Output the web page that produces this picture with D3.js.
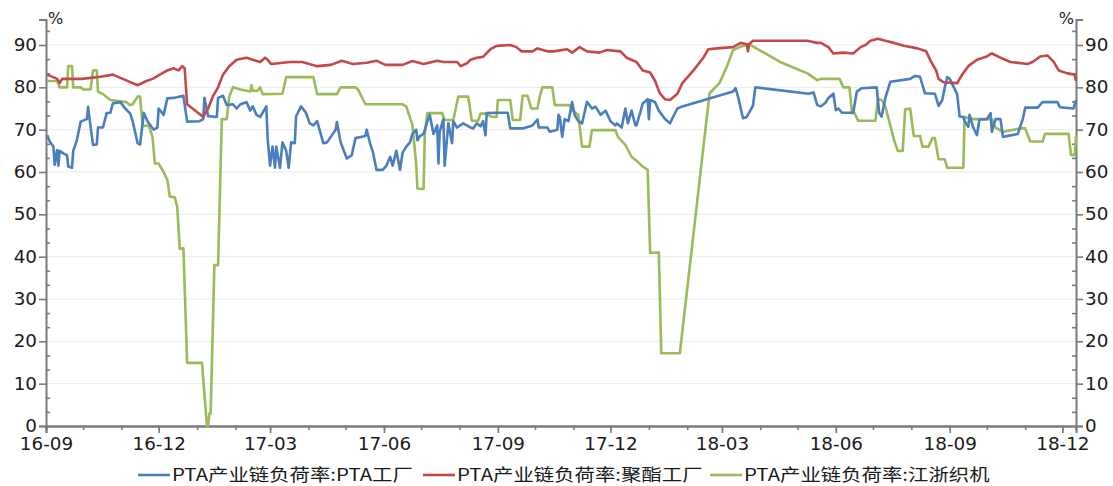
<!DOCTYPE html>
<html>
<head>
<meta charset="utf-8">
<script src="https://cdn.jsdelivr.net/npm/d3@7"></script>
<style>
  body { margin: 0; background: #fff; }
  svg { display: block; }
</style>
</head>
<body>
<div id="chart"></div>
<script>
// series names and colours
const seriesNames = ["PTA产业链负荷率:PTA工厂", "PTA产业链负荷率:聚酯工厂", "PTA产业链负荷率:江浙织机"];
const seriesColors = ["#4a7ebf", "#c4494b", "#9bbb59"];

// axis ticks
const xTickLabels = ["16-09", "16-12", "17-03", "17-06", "17-09", "17-12", "18-03", "18-06", "18-09", "18-12"];
const yTicks = [0, 10, 20, 30, 40, 50, 60, 70, 80, 90];
const xDomain = ["2016-09-01", "2018-12-12"];
const yMax = 96;

// PTA工厂
const ptaPlant = [
  ["2016-09-02", 68.7], ["2016-09-04", 67.2], ["2016-09-07", 66], ["2016-09-08", 61.7], ["2016-09-10", 65.2],
  ["2016-09-11", 61.5], ["2016-09-12", 65], ["2016-09-15", 64.4], ["2016-09-18", 64], ["2016-09-19", 61.3],
  ["2016-09-22", 61], ["2016-09-23", 65], ["2016-09-26", 67.6], ["2016-09-29", 71.9], ["2016-10-04", 72.5],
  ["2016-10-05", 75.4], ["2016-10-07", 70.7], ["2016-10-09", 66.4], ["2016-10-12", 66.5], ["2016-10-13", 70.5],
  ["2016-10-17", 70.5], ["2016-10-20", 73.9], ["2016-10-23", 74], ["2016-10-25", 76.2], ["2016-10-31", 76.5],
  ["2016-11-04", 75], ["2016-11-08", 73.8], ["2016-11-10", 72], ["2016-11-14", 66.8], ["2016-11-16", 66.5],
  ["2016-11-19", 74], ["2016-11-22", 72], ["2016-11-27", 70], ["2016-11-30", 70.5], ["2016-12-01", 75],
  ["2016-12-05", 73.5], ["2016-12-08", 77.4], ["2016-12-13", 77.5], ["2016-12-21", 78], ["2016-12-24", 71.9],
  ["2017-01-03", 72], ["2017-01-06", 72.5], ["2017-01-07", 77.5], ["2017-01-10", 73.2], ["2017-01-17", 73],
  ["2017-01-18", 77.5], ["2017-01-22", 78], ["2017-01-25", 75.8], ["2017-01-30", 76], ["2017-02-02", 75],
  ["2017-02-05", 76], ["2017-02-10", 76.5], ["2017-02-13", 74.5], ["2017-02-15", 75.5], ["2017-02-18", 73.5],
  ["2017-02-21", 73], ["2017-02-23", 74], ["2017-02-26", 75.5], ["2017-02-27", 68], ["2017-03-01", 61.5],
  ["2017-03-03", 66], ["2017-03-05", 61], ["2017-03-06", 66], ["2017-03-09", 61], ["2017-03-11", 67],
  ["2017-03-14", 65], ["2017-03-16", 61], ["2017-03-18", 67], ["2017-03-21", 66.8], ["2017-03-22", 73.1],
  ["2017-03-26", 75.5], ["2017-03-30", 74], ["2017-04-02", 71.5], ["2017-04-05", 71], ["2017-04-08", 72],
  ["2017-04-13", 66.8], ["2017-04-16", 67], ["2017-04-19", 68.3], ["2017-04-23", 70], ["2017-04-24", 71.8],
  ["2017-04-27", 67], ["2017-05-02", 63.2], ["2017-05-06", 64], ["2017-05-09", 68], ["2017-05-17", 68.5],
  ["2017-05-18", 70], ["2017-05-21", 66.5], ["2017-05-23", 64.8], ["2017-05-26", 60.5], ["2017-05-31", 60.5],
  ["2017-06-03", 61.5], ["2017-06-06", 63.6], ["2017-06-08", 61.5], ["2017-06-11", 65], ["2017-06-14", 60.5],
  ["2017-06-16", 64.5], ["2017-06-19", 66], ["2017-06-22", 67], ["2017-06-24", 69], ["2017-06-27", 70],
  ["2017-06-28", 67.5], ["2017-06-30", 68.5], ["2017-07-03", 69], ["2017-07-06", 71.9], ["2017-07-08", 73.5],
  ["2017-07-11", 69], ["2017-07-14", 71], ["2017-07-15", 62], ["2017-07-16", 69.5], ["2017-07-19", 72.5],
  ["2017-07-20", 61.5], ["2017-07-23", 71.5], ["2017-07-26", 66.8], ["2017-07-27", 72], ["2017-07-30", 70.5],
  ["2017-08-04", 71.5], ["2017-08-10", 70.5], ["2017-08-12", 70.3], ["2017-08-15", 71.5], ["2017-08-18", 70.8],
  ["2017-08-20", 72], ["2017-08-22", 68.7], ["2017-08-23", 73.9], ["2017-08-31", 74], ["2017-09-09", 74],
  ["2017-09-11", 70.3], ["2017-09-21", 70.3], ["2017-09-29", 71], ["2017-10-03", 72.4], ["2017-10-04", 70.5],
  ["2017-10-11", 70.5], ["2017-10-13", 69.5], ["2017-10-19", 70], ["2017-10-20", 73.5], ["2017-10-21", 73],
  ["2017-10-23", 68.3], ["2017-10-25", 72.5], ["2017-10-28", 72], ["2017-10-31", 76.5], ["2017-11-02", 73.5],
  ["2017-11-05", 72], ["2017-11-08", 71.5], ["2017-11-12", 76.6], ["2017-11-16", 75], ["2017-11-19", 75.4],
  ["2017-11-23", 73.5], ["2017-11-27", 74.5], ["2017-12-01", 72], ["2017-12-05", 71], ["2017-12-06", 71.5],
  ["2017-12-10", 70.5], ["2017-12-13", 75], ["2017-12-15", 71.5], ["2017-12-18", 74.5], ["2017-12-21", 71.1],
  ["2017-12-22", 71], ["2017-12-25", 74], ["2017-12-27", 76.2], ["2017-12-31", 77.2], ["2018-01-01", 72.5],
  ["2018-01-02", 77], ["2018-01-06", 76.5], ["2018-01-09", 74.5], ["2018-01-14", 72.5], ["2018-01-18", 71.5],
  ["2018-01-24", 75], ["2018-01-28", 75.5], ["2018-03-10", 79], ["2018-03-12", 79.8], ["2018-03-14", 77.8],
  ["2018-03-18", 72.7], ["2018-03-21", 73], ["2018-03-26", 75.6], ["2018-03-28", 80], ["2018-05-10", 78.5],
  ["2018-05-14", 78.8], ["2018-05-17", 75.8], ["2018-05-20", 75.5], ["2018-05-24", 76.5], ["2018-05-26", 77.5],
  ["2018-05-30", 78.5], ["2018-06-01", 74.6], ["2018-06-03", 75], ["2018-06-06", 74], ["2018-06-15", 74],
  ["2018-06-18", 79], ["2018-06-22", 79.8], ["2018-07-04", 80], ["2018-07-06", 74], ["2018-07-08", 73.1],
  ["2018-07-11", 77.5], ["2018-07-15", 81.3], ["2018-07-31", 82], ["2018-08-04", 82.7], ["2018-08-08", 82.5],
  ["2018-08-12", 78.6], ["2018-08-20", 78.5], ["2018-08-23", 75.6], ["2018-08-26", 77], ["2018-08-28", 80],
  ["2018-08-30", 82.4], ["2018-09-01", 82], ["2018-09-07", 78.4], ["2018-09-09", 73.1], ["2018-09-12", 73],
  ["2018-09-13", 72], ["2018-09-16", 70.7], ["2018-09-17", 73.5], ["2018-09-20", 70.5], ["2018-09-23", 68.7],
  ["2018-09-25", 72.4], ["2018-10-01", 72.5], ["2018-10-04", 73.9], ["2018-10-05", 69.5], ["2018-10-08", 72.5],
  ["2018-10-12", 72.5], ["2018-10-14", 68.3], ["2018-10-26", 69], ["2018-10-30", 72.5], ["2018-11-01", 75.2],
  ["2018-11-11", 75.2], ["2018-11-15", 76.5], ["2018-11-27", 76.5], ["2018-11-29", 75.3], ["2018-12-10", 75],
  ["2018-12-12", 77]
];

// 聚酯工厂
const polyesterPlant = [
  ["2016-09-02", 83], ["2016-09-10", 82], ["2016-09-12", 81], ["2016-09-14", 82], ["2016-09-30", 82],
  ["2016-10-15", 82.5], ["2016-10-25", 83], ["2016-11-02", 82], ["2016-11-10", 81], ["2016-11-14", 80.5],
  ["2016-11-21", 81.5], ["2016-11-26", 82], ["2016-12-02", 83], ["2016-12-08", 84], ["2016-12-13", 84.5],
  ["2016-12-17", 84], ["2016-12-20", 85], ["2016-12-22", 84.5], ["2016-12-24", 76], ["2017-01-06", 73],
  ["2017-01-10", 75], ["2017-01-14", 78], ["2017-01-18", 80], ["2017-01-22", 83], ["2017-01-27", 85],
  ["2017-02-02", 86.5], ["2017-02-10", 87], ["2017-02-15", 86.5], ["2017-02-21", 86], ["2017-02-25", 87],
  ["2017-02-27", 86.5], ["2017-03-02", 85.5], ["2017-03-17", 86], ["2017-03-27", 86], ["2017-04-08", 85],
  ["2017-04-19", 85.3], ["2017-04-28", 86.3], ["2017-05-07", 85.5], ["2017-05-18", 85.8], ["2017-05-26", 86.3],
  ["2017-06-02", 85.3], ["2017-06-16", 85.3], ["2017-06-24", 86.2], ["2017-07-03", 85.5], ["2017-07-14", 86.3],
  ["2017-07-19", 86], ["2017-07-30", 86], ["2017-08-02", 85], ["2017-08-07", 85.7], ["2017-08-10", 86.5],
  ["2017-08-15", 87], ["2017-08-20", 87.2], ["2017-08-26", 89], ["2017-08-31", 89.8], ["2017-09-11", 90],
  ["2017-09-16", 89.5], ["2017-09-20", 88.5], ["2017-09-29", 88.5], ["2017-10-03", 89.2], ["2017-10-11", 88.5],
  ["2017-10-16", 88.5], ["2017-10-27", 89], ["2017-10-31", 88.2], ["2017-11-06", 89.5], ["2017-11-12", 88.5],
  ["2017-11-22", 88.2], ["2017-11-28", 88.8], ["2017-12-09", 88.5], ["2017-12-14", 87], ["2017-12-22", 86],
  ["2017-12-27", 84], ["2018-01-02", 83.5], ["2018-01-06", 81.5], ["2018-01-10", 78.5], ["2018-01-14", 77.2],
  ["2018-01-18", 77], ["2018-01-24", 78.5], ["2018-01-28", 81], ["2018-02-06", 84], ["2018-02-14", 87],
  ["2018-02-18", 89], ["2018-02-25", 89.2], ["2018-03-10", 89.5], ["2018-03-16", 90.5], ["2018-03-21", 90.2],
  ["2018-03-22", 88.5], ["2018-03-23", 90.2], ["2018-03-26", 91], ["2018-04-11", 91], ["2018-05-09", 91],
  ["2018-05-17", 90.5], ["2018-05-20", 90.5], ["2018-05-26", 89.5], ["2018-05-30", 88], ["2018-06-07", 88.2],
  ["2018-06-15", 88], ["2018-06-21", 89.5], ["2018-06-25", 90], ["2018-06-29", 91], ["2018-07-05", 91.5],
  ["2018-07-11", 91], ["2018-07-18", 90.5], ["2018-07-26", 89.8], ["2018-08-06", 89.2], ["2018-08-13", 88.5],
  ["2018-08-17", 86], ["2018-08-21", 84], ["2018-08-23", 82], ["2018-08-27", 81.2], ["2018-09-07", 81],
  ["2018-09-11", 83], ["2018-09-16", 85], ["2018-09-23", 86.5], ["2018-10-01", 87.3], ["2018-10-05", 88],
  ["2018-10-12", 87], ["2018-10-20", 86], ["2018-11-03", 85.5], ["2018-11-07", 86], ["2018-11-13", 87.3],
  ["2018-11-19", 87.5], ["2018-11-24", 86], ["2018-11-28", 84], ["2018-12-05", 83.3], ["2018-12-11", 83],
  ["2018-12-12", 81.5]
];

// 江浙织机
const weavingLooms = [
  ["2016-09-02", 81.5], ["2016-09-10", 81.5], ["2016-09-12", 80], ["2016-09-18", 80], ["2016-09-19", 85],
  ["2016-09-22", 85], ["2016-09-23", 80], ["2016-09-29", 80], ["2016-10-01", 79.5], ["2016-10-07", 79.5],
  ["2016-10-09", 84], ["2016-10-12", 84], ["2016-10-13", 79], ["2016-10-17", 78.4], ["2016-10-23", 77],
  ["2016-11-05", 76.5], ["2016-11-08", 75.8], ["2016-11-10", 76], ["2016-11-14", 77.8], ["2016-11-16", 77.8],
  ["2016-11-18", 70.9], ["2016-11-23", 71], ["2016-11-26", 68.3], ["2016-11-28", 62], ["2016-12-01", 62],
  ["2016-12-05", 60], ["2016-12-08", 58.1], ["2016-12-10", 54.2], ["2016-12-14", 54], ["2016-12-16", 51.8],
  ["2016-12-18", 41.9], ["2016-12-21", 42], ["2016-12-24", 14.9], ["2017-01-05", 14.9], ["2017-01-09", 0],
  ["2017-01-10", 0], ["2017-01-11", 3], ["2017-01-12", 3], ["2017-01-15", 38], ["2017-01-18", 38],
  ["2017-01-21", 72.5], ["2017-01-25", 72.5], ["2017-01-27", 77.8], ["2017-01-30", 80], ["2017-02-05", 79.5],
  ["2017-02-10", 79.2], ["2017-02-13", 79], ["2017-02-14", 80.5], ["2017-02-15", 79.2], ["2017-02-19", 79.2],
  ["2017-02-21", 80], ["2017-02-23", 78.4], ["2017-03-11", 78.5], ["2017-03-14", 82.4], ["2017-04-05", 82.4],
  ["2017-04-08", 78.4], ["2017-04-24", 78.4], ["2017-04-27", 80], ["2017-05-09", 80], ["2017-05-11", 79.5],
  ["2017-05-17", 76], ["2017-06-16", 76], ["2017-06-19", 75.5], ["2017-06-24", 71.1], ["2017-06-27", 62],
  ["2017-06-28", 56.1], ["2017-07-03", 56], ["2017-07-04", 69.1], ["2017-07-06", 73.9], ["2017-07-18", 73.9],
  ["2017-07-20", 72.3], ["2017-07-27", 72.3], ["2017-07-31", 77.8], ["2017-08-08", 77.8], ["2017-08-11", 72.1],
  ["2017-08-16", 72.1], ["2017-08-18", 73.8], ["2017-08-23", 73.8], ["2017-08-26", 73.1], ["2017-08-31", 73],
  ["2017-09-01", 77], ["2017-09-11", 77], ["2017-09-13", 72.3], ["2017-09-19", 72.3], ["2017-09-21", 78],
  ["2017-09-25", 78], ["2017-09-28", 75], ["2017-10-03", 75], ["2017-10-05", 78], ["2017-10-07", 80],
  ["2017-10-15", 80], ["2017-10-17", 75.8], ["2017-10-29", 75.8], ["2017-10-31", 74.5], ["2017-11-05", 73.5],
  ["2017-11-08", 66], ["2017-11-14", 66], ["2017-11-16", 69.9], ["2017-12-05", 69.9], ["2017-12-07", 68.3],
  ["2017-12-13", 66.4], ["2017-12-18", 63.6], ["2017-12-23", 62.4], ["2017-12-27", 61.3], ["2017-12-31", 60.5],
  ["2018-01-02", 40.9], ["2018-01-09", 41], ["2018-01-11", 17.2], ["2018-01-26", 17.2], ["2018-02-09", 53],
  ["2018-02-19", 78.6], ["2018-02-27", 81], ["2018-03-05", 84.9], ["2018-03-10", 88.8], ["2018-03-16", 89.6],
  ["2018-03-23", 90.2], ["2018-03-27", 89.5], ["2018-04-17", 86], ["2018-05-09", 83.3], ["2018-05-17", 81.7],
  ["2018-05-20", 82], ["2018-06-04", 82], ["2018-06-07", 80], ["2018-06-12", 80], ["2018-06-14", 73.9],
  ["2018-06-16", 74], ["2018-06-19", 72.1], ["2018-07-03", 72.1], ["2018-07-05", 77.2], ["2018-07-08", 77],
  ["2018-07-11", 75.5], ["2018-07-18", 67.6], ["2018-07-21", 65], ["2018-07-25", 65], ["2018-07-27", 74.8],
  ["2018-07-31", 75], ["2018-08-03", 68.5], ["2018-08-08", 68.5], ["2018-08-10", 66], ["2018-08-15", 66],
  ["2018-08-18", 68], ["2018-08-20", 68], ["2018-08-23", 63], ["2018-08-28", 63], ["2018-08-30", 61],
  ["2018-09-12", 61], ["2018-09-13", 73], ["2018-09-20", 72.5], ["2018-10-05", 72.5], ["2018-10-08", 70.5],
  ["2018-10-14", 69.5], ["2018-10-28", 70.3], ["2018-11-01", 70.3], ["2018-11-05", 67.2], ["2018-11-15", 67.2],
  ["2018-11-17", 69], ["2018-12-06", 69], ["2018-12-08", 64], ["2018-12-11", 64], ["2018-12-12", 68.5]
];

const width = 1113, height = 486;
const plot = { left: 46, right: 1076, top: 19.6, bottom: 426 };

const parseDay = d3.timeParse("%Y-%m-%d");
const parseTick = d3.timeParse("%y-%m");

const svg = d3.select("#chart").append("svg")
    .attr("width", width)
    .attr("height", height);

const x = d3.scaleTime()
    .domain(xDomain.map(parseDay))
    .range([plot.left, plot.right]);

const y = d3.scaleLinear()
    .domain([0, yMax])
    .range([plot.bottom, plot.top]);

// grid lines
svg.append("g")
    .selectAll("line")
    .data(yTicks.filter(d => d > 0))
    .enter()
    .append("line")
    .attr("x1", plot.left)
    .attr("x2", plot.right)
    .attr("y1", d => y(d))
    .attr("y2", d => y(d))
    .attr("stroke", "#ebebeb")
    .attr("stroke-width", 1);

const axisColor = "#7a7a7a";
const minorTicks = d3.range(0, yMax, 10 / 3).filter(d => Math.abs(d / 10 - Math.round(d / 10)) > 0.01);

function styleAxis(g, sx) {
    g.select(".domain").attr("stroke", axisColor).attr("stroke-width", 2);
    g.selectAll(".tick line").attr("stroke", axisColor).attr("stroke-width", 1.6);
    g.selectAll(".tick text")
        .attr("fill", "#1a1a1a")
        .style("font-family", "'DejaVu Sans', Verdana, sans-serif")
        .style("font-size", "17px")
        .attr("transform", `scale(${sx},1)`)
        .attr("x", function () { return (+d3.select(this).attr("x") || 0) / sx; });
}

// left axis
const leftAxis = svg.append("g")
    .attr("transform", `translate(${plot.left},0)`)
    .call(d3.axisLeft(y).tickValues(yTicks).tickSize(7).tickPadding(2));
styleAxis(leftAxis, 1.08);
svg.append("g")
    .attr("transform", `translate(${plot.left},0)`)
    .call(d3.axisLeft(y).tickValues(minorTicks).tickSize(-4).tickFormat(""))
    .call(g => styleAxis(g, 1))
    .call(g => g.select(".domain").remove());

// right axis
const rightAxis = svg.append("g")
    .attr("transform", `translate(${plot.right},0)`)
    .call(d3.axisRight(y).tickValues(yTicks).tickSize(7).tickPadding(2));
styleAxis(rightAxis, 1.08);
svg.append("g")
    .attr("transform", `translate(${plot.right},0)`)
    .call(d3.axisRight(y).tickValues(minorTicks).tickSize(-4).tickFormat(""))
    .call(g => styleAxis(g, 1))
    .call(g => g.select(".domain").remove());

// bottom axis: monthly minor ticks, quarterly labels
svg.append("g")
    .attr("transform", `translate(0,${plot.bottom})`)
    .call(d3.axisBottom(x).ticks(d3.timeMonth.every(1)).tickSize(4).tickFormat(""))
    .call(g => styleAxis(g, 1));
const bottomAxis = svg.append("g")
    .attr("transform", `translate(0,${plot.bottom})`)
    .call(d3.axisBottom(x)
        .tickValues(xTickLabels.map(parseTick))
        .tickFormat(d3.timeFormat("%y-%m"))
        .tickSize(7)
        .tickPadding(5));
styleAxis(bottomAxis, 1.08);

// unit labels
svg.append("text")
    .attr("x", plot.left + 2)
    .attr("y", 24)
    .style("font-family", "'DejaVu Sans', sans-serif")
    .style("font-size", "16px")
    .attr("fill", "#1a1a1a")
    .text("%");
svg.append("text")
    .attr("x", plot.right - 2)
    .attr("y", 24)
    .attr("text-anchor", "end")
    .style("font-family", "'DejaVu Sans', sans-serif")
    .style("font-size", "16px")
    .attr("fill", "#1a1a1a")
    .text("%");

// lines
const line = d3.line()
    .x(d => x(parseDay(d[0])))
    .y(d => y(d[1]));

const allSeries = [ptaPlant, polyesterPlant, weavingLooms];
const drawOrder = [2, 0, 1];

svg.append("g")
    .selectAll("path")
    .data(drawOrder)
    .enter()
    .append("path")
    .attr("d", i => line(allSeries[i]))
    .attr("fill", "none")
    .attr("stroke", i => seriesColors[i])
    .attr("stroke-width", 2.6)
    .attr("stroke-linejoin", "round");

// legend
const legendX = [138, 423, 710];
const legend = svg.append("g")
    .selectAll("g")
    .data(seriesNames)
    .enter()
    .append("g")
    .attr("transform", (d, i) => `translate(${legendX[i]},475)`);

legend.append("line")
    .attr("x1", 0)
    .attr("x2", 32)
    .attr("stroke", (d, i) => seriesColors[i])
    .attr("stroke-width", 2.6);

legend.append("text")
    .attr("transform", "translate(34,0) scale(1.2,1)")
    .attr("dy", "0.36em")
    .style("font-family", "'Noto Sans CJK SC', sans-serif")
    .style("font-size", "17px")
    .attr("fill", "#1a1a1a")
    .text(d => d);
</script>
</body>
</html>
